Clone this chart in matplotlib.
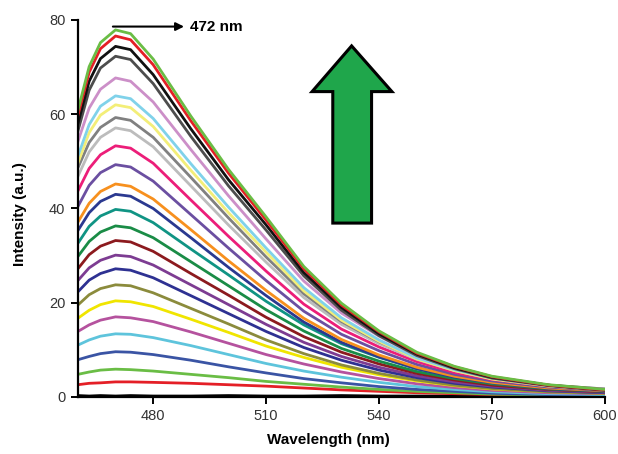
import matplotlib
matplotlib.use('Agg')
import matplotlib.pyplot as plt
from matplotlib.patches import Polygon

plt.rcParams['font.family'] = ['Liberation Sans', 'DejaVu Sans']

# wavelength grid (nm)
wavelength = [460, 463, 466, 470, 474, 480, 490, 500, 510, 520, 530, 540, 550, 560, 570, 585, 600]

# emission spectra, lowest (first) to highest (last)
s01 = [0.3, 0.2, 0.3, 0.2, 0.3, 0.2, 0.2, 0.3, 0.2, 0.2, 0.3, 0.2, 0.2, 0.2, 0.2, 0.1, 0.1]
s02 = [2.6, 2.9, 3.0, 3.2, 3.2, 3.1, 2.9, 2.6, 2.3, 1.9, 1.5, 1.2, 0.9, 0.7, 0.5, 0.4, 0.3]
s03 = [4.8, 5.3, 5.7, 5.9, 5.8, 5.5, 4.8, 4.1, 3.3, 2.7, 2.1, 1.6, 1.2, 0.9, 0.6, 0.4, 0.3]
s04 = [7.9, 8.6, 9.2, 9.6, 9.5, 9.0, 7.8, 6.4, 5.1, 3.9, 3.0, 2.2, 1.6, 1.2, 0.8, 0.5, 0.4]
s05 = [11.0, 12.1, 12.9, 13.4, 13.3, 12.6, 10.9, 9.0, 7.1, 5.5, 4.2, 3.1, 2.2, 1.6, 1.1, 0.7, 0.5]
s06 = [13.9, 15.3, 16.3, 17.0, 16.8, 16.0, 13.8, 11.4, 9.0, 7.0, 5.3, 3.9, 2.8, 2.0, 1.4, 0.9, 0.7]
s07 = [16.7, 18.4, 19.6, 20.4, 20.2, 19.2, 16.5, 13.7, 10.8, 8.4, 6.3, 4.7, 3.4, 2.4, 1.7, 1.1, 0.8]
s08 = [19.5, 21.7, 23.0, 23.8, 23.6, 22.1, 18.8, 15.5, 12.1, 9.2, 6.8, 5.0, 3.6, 2.5, 1.8, 1.1, 0.8]
s09 = [22.3, 24.8, 26.2, 27.2, 26.9, 25.3, 21.5, 17.7, 13.9, 10.5, 7.8, 5.7, 4.1, 2.9, 2.1, 1.3, 0.9]
s10 = [24.7, 27.4, 29.0, 30.1, 29.8, 28.0, 23.8, 19.6, 15.4, 11.6, 8.6, 6.3, 4.5, 3.2, 2.3, 1.4, 1.0]
s11 = [27.2, 30.2, 32.0, 33.2, 32.9, 30.9, 26.2, 21.6, 16.9, 12.8, 9.5, 7.0, 5.0, 3.6, 2.5, 1.6, 1.1]
s12 = [29.8, 33.0, 35.0, 36.3, 35.9, 33.8, 28.7, 23.6, 18.5, 14.0, 10.3, 7.6, 5.4, 3.9, 2.8, 1.7, 1.2]
s13 = [32.6, 36.2, 38.4, 39.8, 39.4, 37.0, 31.4, 25.9, 20.3, 15.3, 11.3, 8.4, 6.0, 4.3, 3.0, 1.9, 1.4]
s14 = [35.3, 39.1, 41.5, 43.0, 42.6, 40.0, 33.8, 27.5, 21.5, 15.9, 11.6, 8.5, 6.0, 4.2, 3.0, 1.8, 1.2]
s15 = [37.1, 41.1, 43.6, 45.2, 44.7, 42.0, 35.5, 28.9, 22.6, 16.7, 12.2, 8.9, 6.3, 4.4, 3.1, 1.9, 1.3]
s16 = [40.4, 44.9, 47.6, 49.3, 48.8, 45.8, 38.7, 31.6, 24.7, 18.2, 13.3, 9.8, 6.9, 4.8, 3.4, 2.1, 1.4]
s17 = [43.7, 48.5, 51.4, 53.3, 52.8, 49.6, 41.8, 34.1, 26.7, 19.7, 14.4, 10.6, 7.5, 5.2, 3.7, 2.3, 1.5]
s18 = [46.8, 52.0, 55.1, 57.1, 56.5, 53.1, 44.8, 36.5, 28.6, 21.1, 15.4, 11.3, 8.0, 5.6, 3.9, 2.5, 1.7]
s19 = [48.6, 54.0, 57.2, 59.3, 58.7, 55.1, 46.6, 38.0, 29.7, 21.9, 16.0, 11.7, 8.3, 5.8, 4.1, 2.5, 1.7]
s20 = [49.6, 56.1, 59.8, 62.0, 61.4, 57.4, 48.1, 39.1, 30.7, 22.5, 16.3, 11.8, 8.1, 5.6, 3.8, 2.3, 1.5]
s21 = [51.1, 57.8, 61.7, 63.9, 63.3, 59.1, 49.5, 40.3, 31.6, 23.2, 16.8, 12.1, 8.3, 5.8, 4.0, 2.4, 1.5]
s22 = [54.2, 61.3, 65.3, 67.7, 67.0, 62.6, 52.5, 42.7, 33.5, 24.6, 17.8, 12.9, 8.8, 6.1, 4.2, 2.5, 1.6]
s23 = [56.4, 65.1, 69.8, 72.3, 71.6, 66.5, 55.3, 44.8, 35.4, 25.7, 18.4, 13.0, 8.8, 6.0, 4.0, 2.4, 1.4]
s24 = [58.0, 67.0, 71.8, 74.4, 73.7, 68.4, 56.9, 46.1, 36.5, 26.4, 19.0, 13.4, 9.1, 6.2, 4.2, 2.5, 1.5]
s25 = [59.7, 68.9, 73.9, 76.6, 75.8, 70.5, 58.6, 47.5, 37.5, 27.2, 19.5, 13.8, 9.3, 6.4, 4.3, 2.5, 1.5]
s26 = [60.8, 70.1, 75.2, 77.9, 77.1, 71.7, 59.6, 48.3, 38.2, 27.7, 19.9, 14.0, 9.5, 6.5, 4.4, 2.6, 1.6]

spectra = [s01, s02, s03, s04, s05, s06, s07, s08, s09, s10, s11, s12, s13,
           s14, s15, s16, s17, s18, s19, s20, s21, s22, s23, s24, s25, s26]
colors = ['#000000', '#e41f26', '#6abd45', '#3a54a4', '#5ec4dc', '#b5529e',
          '#f0e500', '#8b8b3c', '#2e3192', '#7d3c92', '#8c1a1e', '#1a8c46',
          '#109484', '#2b3990', '#f7901e', '#6b4fa1', '#ec1e79', '#bcbcbc',
          '#808080', '#f3ee78', '#80d2ea', '#cc8fc8', '#4d4d4d', '#111111',
          '#e41f26', '#6abd45']

x_ticks = [480, 510, 540, 570, 600]
y_ticks = [0, 20, 40, 60, 80]

fig = plt.figure(figsize=(6.18, 4.54), dpi=100)
ax = fig.add_axes([0.126, 0.1256, 0.853, 0.8304])

for ys, c in zip(spectra, colors):
    ax.plot(wavelength, ys, color=c, linewidth=2.0, solid_joinstyle='round')

ax.set_xlim(460, 600)
ax.set_ylim(0, 80)
ax.set_xticks(x_ticks)
ax.set_yticks(y_ticks)
for side in ['top', 'right']:
    ax.spines[side].set_visible(False)
for side in ['left', 'bottom']:
    ax.spines[side].set_linewidth(1.6)
ax.tick_params(direction='out', length=5, width=1.4, labelsize=10.5,
               labelcolor='#333333', pad=4)
ax.set_xlabel('Wavelength (nm)', fontsize=11, fontweight='bold')
ax.set_ylabel('Intensity (a.u.)', fontsize=11, fontweight='bold')
ax.xaxis.set_label_coords(0.475, -0.095)
ax.yaxis.set_label_coords(-0.097, 0.485)

# peak marker
ax.annotate('', xy=(488.2, 78.6), xytext=(469.3, 78.6),
            arrowprops=dict(arrowstyle='-|>', color='black', lw=1.5,
                            mutation_scale=12, shrinkA=0, shrinkB=0),
            annotation_clip=False)
ax.text(489.8, 78.6, '472 nm', fontsize=11, fontweight='bold', va='center',
        ha='left')

# big green arrow (increasing intensity)
arrow = Polygon([(527.7, 36.9), (538.0, 36.9), (538.0, 64.8), (543.4, 64.8),
                 (532.7, 74.5), (522.2, 64.8), (527.7, 64.8)],
                closed=True, facecolor='#1fa64b', edgecolor='black',
                linewidth=2.2, joinstyle='miter', zorder=5)
ax.add_patch(arrow)

plt.savefig('out.png', dpi=100)
